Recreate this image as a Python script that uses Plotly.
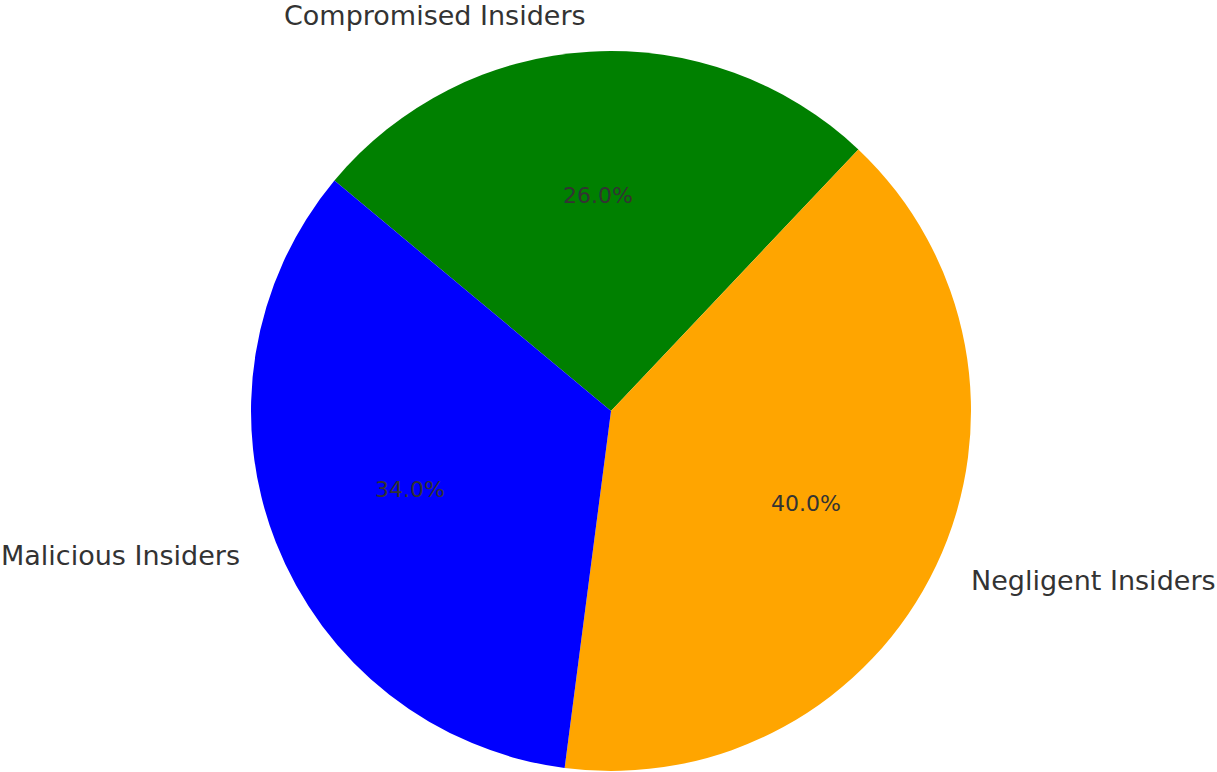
import math
import plotly.graph_objects as go

labels = ["Compromised Insiders", "Negligent Insiders", "Malicious Insiders"]
values = [26, 40, 34]
colors = ["#008000", "#FFA500", "#0000FF"]

W, H = 1217, 772
CX, CY, R = 611, 411, 360
START = 140.2  # math degrees; slices run clockwise

fig = go.Figure(go.Pie(
    labels=labels, values=values, sort=False, direction="clockwise",
    rotation=-(START - 90), marker=dict(colors=colors, line=dict(width=0)),
    textinfo="none", hoverinfo="label+percent", showlegend=False,
    domain=dict(x=[(CX - R) / W, (CX + R) / W],
                y=[(H - CY - R) / H, (H - CY + R) / H]),
))

total = sum(values)
ang = START
annotations = []
for lab, v in zip(labels, values):
    span = 360 * v / total
    mid = math.radians(ang - span / 2)
    ang -= span
    c, s = math.cos(mid), math.sin(mid)
    lx, ly = CX + 1.1 * R * c, CY - 1.1 * R * s
    annotations.append(dict(
        x=lx / W, y=1 - ly / H, xref="paper", yref="paper", text=lab, showarrow=False,
        xanchor="left" if c > 0 else "right", yanchor="middle",
        font=dict(family="DejaVu Sans", size=27, color="#333333")))
    px, py = CX + 0.6 * R * c, CY - 0.6 * R * s
    annotations.append(dict(
        x=px / W, y=1 - py / H, xref="paper", yref="paper", text=f"{100 * v / total:.1f}%",
        showarrow=False, xanchor="center", yanchor="middle",
        font=dict(family="DejaVu Sans", size=22, color="#333333")))

fig.update_layout(
    width=W, height=H, margin=dict(l=0, r=0, t=0, b=0),
    paper_bgcolor="white", plot_bgcolor="white", annotations=annotations,
)
fig.write_html("out.html", config={"displayModeBar": False},
               post_script="document.body.style.margin='0';document.body.style.overflow='hidden';")
